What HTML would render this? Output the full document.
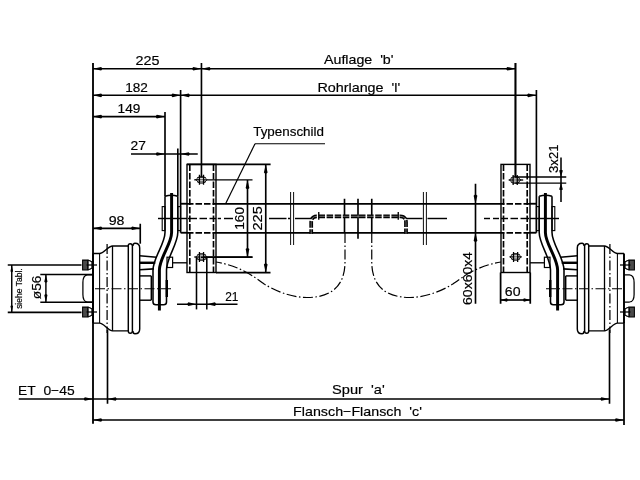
<!DOCTYPE html>
<html><head><meta charset="utf-8"><style>
html,body{margin:0;padding:0;background:#fff;}
svg{display:block;will-change:transform;}
text{font-family:"Liberation Sans",sans-serif;fill:#000;stroke:#000;stroke-width:0.18px;}
</style></head><body>
<svg width="640" height="480" viewBox="0 0 640 480" fill="none" stroke="#000">
<rect x="0" y="0" width="640" height="480" fill="#fff" stroke="none"/>
<g id="L"><line x1="93" y1="253.5" x2="93" y2="323.1" stroke-width="1.95" />
<path d="M93,253.5 H99.5 C104,253.5 108,246 112.5,246 H128.3" stroke-width="1.35" />
<path d="M93,323.1 H99.5 C104,323.1 108,330.8 112.5,330.8 H128.3" stroke-width="1.35" />
<line x1="99.6" y1="253.5" x2="99.6" y2="323.1" stroke-width="1.05" />
<line x1="112.5" y1="246" x2="112.5" y2="330.8" stroke-width="1.30" />
<path d="M128.3,331 V245.5 Q128.3,243.7 130.2,243.7 Q132.4,243.7 132.4,246 V331 Q132.4,333.3 130.2,333.3 Q128.3,333.3 128.3,331" stroke-width="1.45" />
<path d="M132.9,246 Q133,243.2 135,243.2 Q139.7,243.2 139.7,248 V329 Q139.7,333.8 135,333.8 Q133,333.8 132.9,331" stroke-width="1.45" />
<line x1="107.1" y1="244" x2="107.1" y2="333" stroke-width="1.25" stroke-dasharray="10 2.5 1.5 2.5"/>
<line x1="95" y1="288.75" x2="173" y2="288.75" stroke-width="1.20" stroke-dasharray="10 2.5 1.5 2.5"/>
<path d="M93,274.8 H87.5 Q82.9,275.2 82.9,282.5 V294.5 Q82.9,301.8 87.5,302 H93" stroke-width="1.25" />
<path d="M82.6,260.1 H87.9 L92.7,262.2 V267.8 L87.9,269.9 H82.6 Z" stroke-width="1.05" fill="#4a4a4a"/>
<path d="M87.9,260.1 L92.7,262.2 V267.8 L87.9,269.9 Z" stroke-width="0.95" fill="#fff"/>
<line x1="87.9" y1="260.1" x2="87.9" y2="269.9" stroke-width="1.15" />
<line x1="92.2" y1="262.0" x2="92.2" y2="268.0" stroke-width="1.65" />
<line x1="86.5" y1="265" x2="97" y2="265" stroke-width="1.25" />
<path d="M82.6,307.1 H87.9 L92.7,309.2 V314.8 L87.9,316.9 H82.6 Z" stroke-width="1.05" fill="#4a4a4a"/>
<path d="M87.9,307.1 L92.7,309.2 V314.8 L87.9,316.9 Z" stroke-width="0.95" fill="#fff"/>
<line x1="87.9" y1="307.1" x2="87.9" y2="316.9" stroke-width="1.15" />
<line x1="92.2" y1="309.0" x2="92.2" y2="315.0" stroke-width="1.65" />
<line x1="86.5" y1="312" x2="97" y2="312" stroke-width="1.25" />
<path d="M139.5,255.8 L156.7,257.2" stroke-width="1.65" />
<line x1="139.5" y1="262.8" x2="155.3" y2="262.8" stroke-width="2.45" />
<path d="M139.5,269.8 L153.9,268.9" stroke-width="1.65" />
<line x1="139.5" y1="275.9" x2="151.3" y2="275.9" stroke-width="1.45" />
<line x1="139.5" y1="300.2" x2="151.3" y2="300.2" stroke-width="1.45" />
<line x1="151.3" y1="275.9" x2="151.3" y2="300.2" stroke-width="1.45" />
<path d="M165,196.25 V232.5 C165,244 153,258 153,270 V302 Q153,304.8 156,304.8 H163.6 Q166.5,304.8 166.5,302 V270 C166.5,258 177.8,244 177.8,232.5 V196.25" stroke-width="1.55" />
<path d="M171.6,193 V232.5 C171.6,244 159.4,258 159.4,270 V310.5" stroke-width="2.95" />
<path d="M165,196.25 Q171.4,194.2 177.8,196.25" stroke-width="1.65" />
<rect x="162.2" y="206.6" width="2.8" height="24" stroke-width="1.1"/>
<rect x="177.8" y="206.6" width="2.8" height="24" stroke-width="1.1"/>
<rect x="167" y="257.2" width="5.6" height="10.3" stroke-width="1.2"/>
<line x1="172.6" y1="262.8" x2="187" y2="262.8" stroke-width="1.35" />
<line x1="166.8" y1="280" x2="166.8" y2="297" stroke-width="2.45" />
<rect x="187" y="164.4" width="29" height="108.1" stroke-width="1.4"/>
<line x1="189.8" y1="164.4" x2="189.8" y2="272.5" stroke-width="1.65" stroke-dasharray="6.5 2"/>
<line x1="213.5" y1="164.4" x2="213.5" y2="272.5" stroke-width="1.65" stroke-dasharray="6.5 2"/>
<line x1="180.6" y1="203.75" x2="187" y2="203.75" stroke-width="1.85" />
<line x1="180.6" y1="232.75" x2="187" y2="232.75" stroke-width="1.85" />
<line x1="187" y1="203.75" x2="216" y2="203.75" stroke-width="1.75" stroke-dasharray="6.5 2"/>
<line x1="187" y1="232.75" x2="216" y2="232.75" stroke-width="1.75" stroke-dasharray="6.5 2"/>
<line x1="180.6" y1="90" x2="180.6" y2="232.75" stroke-width="1.65" />
<line x1="201.45" y1="63" x2="201.45" y2="177.3" stroke-width="1.65" /></g>
<use href="#L" transform="matrix(-1 0 0 1 717 0)"/>
<line x1="216" y1="203.75" x2="501" y2="203.75" stroke-width="1.75" />
<line x1="216" y1="232.75" x2="501" y2="232.75" stroke-width="1.75" />
<line x1="158" y1="218.5" x2="187" y2="218.5" stroke-width="1.45" />
<line x1="188" y1="218.5" x2="197" y2="218.5" stroke-width="1.45" />
<line x1="199.5" y1="218.5" x2="207" y2="218.5" stroke-width="1.45" />
<line x1="209.5" y1="218.5" x2="216" y2="218.5" stroke-width="1.45" />
<line x1="217.75" y1="218.5" x2="221" y2="218.5" stroke-width="1.45" />
<line x1="224" y1="218.5" x2="233" y2="218.5" stroke-width="1.45" />
<line x1="269" y1="218.5" x2="286.5" y2="218.5" stroke-width="1.45" />
<line x1="288" y1="218.5" x2="290" y2="218.5" stroke-width="1.45" />
<line x1="295" y1="218.5" x2="311" y2="218.5" stroke-width="1.45" />
<line x1="405.7" y1="218.5" x2="422.5" y2="218.5" stroke-width="1.45" />
<line x1="427.5" y1="218.5" x2="447" y2="218.5" stroke-width="1.45" />
<line x1="484" y1="218.5" x2="490" y2="218.5" stroke-width="1.45" />
<line x1="493" y1="218.5" x2="499" y2="218.5" stroke-width="1.45" />
<line x1="501" y1="218.5" x2="508" y2="218.5" stroke-width="1.45" />
<line x1="510.5" y1="218.5" x2="518" y2="218.5" stroke-width="1.45" />
<line x1="520.5" y1="218.5" x2="529" y2="218.5" stroke-width="1.45" />
<line x1="530" y1="218.5" x2="559" y2="218.5" stroke-width="1.45" />
<line x1="290.6" y1="192" x2="290.6" y2="245" stroke-width="0.95" />
<line x1="293.6" y1="192" x2="293.6" y2="245" stroke-width="0.95" />
<line x1="423.4" y1="192" x2="423.4" y2="245" stroke-width="0.95" />
<line x1="426.4" y1="192" x2="426.4" y2="245" stroke-width="0.95" />
<line x1="358" y1="198.75" x2="358" y2="238.75" stroke-width="1.65" />
<line x1="344.5" y1="198.75" x2="344.5" y2="232.75" stroke-width="1.65" />
<line x1="371.75" y1="198.75" x2="371.75" y2="232.75" stroke-width="1.65" />
<path d="M311.2,233.8 V222.3 Q311.2,216.3 317.2,216.3 H400 Q406,216.3 406,222.3 V233.8" stroke-width="3.75" stroke-dasharray="6.5 1.6" stroke-dashoffset="2"/>
<path d="M311.2,233.8 V222.3 Q311.2,216.3 317.2,216.3 H400 Q406,216.3 406,222.3 V233.8" stroke-width="0.75" stroke="#fff" stroke-opacity="0.55"/>
<line x1="318.75" y1="212" x2="318.75" y2="219.8" stroke-width="1.35" />
<line x1="398.25" y1="212" x2="398.25" y2="219.8" stroke-width="1.35" />
<path d="M345,233 V262 C345,287 330,297.5 307,297.5 C292,297.5 275,291 263.75,283.75 C253,276 240,266 216,262" stroke-width="1.20" stroke-dasharray="10 2.5 1.5 2.5"/>
<path d="M371.75,233 V262 C371.75,287 387,297.5 410,297.5 C425,297.5 442,291 453.25,283.75 C464,276 477,266 501,262" stroke-width="1.20" stroke-dasharray="10 2.5 1.5 2.5"/>
<line x1="93" y1="63" x2="93" y2="423.75" stroke-width="1.85" />
<line x1="165" y1="112" x2="165" y2="196.25" stroke-width="1.65" />
<line x1="177.8" y1="148.5" x2="177.8" y2="196.25" stroke-width="1.65" />
<line x1="187" y1="164.4" x2="270.6" y2="164.4" stroke-width="1.85" />
<path d="M195.9,179.8 L199.1,176.4 H203.9 L207.1,179.8 L203.9,183.20000000000002 H199.1 Z" stroke-width="0.8"/>
<path d="M199.45,174.8 V184.8 M203.55,174.8 V184.8" stroke-width="1.25"/>
<path d="M197.2,177.65 H205.8 M197.2,181.95000000000002 H205.8" stroke-width="0.9"/>
<line x1="194.3" y1="179.8" x2="199.45" y2="179.8" stroke-width="1.35" />
<line x1="203.55" y1="179.8" x2="252.5" y2="179.8" stroke-width="1.35" />
<path d="M199.5,179.8 H203.5" stroke-width="0.8"/>
<path d="M195.9,257 L199.1,253.6 H203.9 L207.1,257 L203.9,260.4 H199.1 Z" stroke-width="0.8"/>
<path d="M199.45,252 V262 M203.55,252 V262" stroke-width="1.25"/>
<path d="M197.2,254.85 H205.8 M197.2,259.15 H205.8" stroke-width="0.9"/>
<line x1="194.3" y1="257" x2="199.45" y2="257" stroke-width="1.35" />
<line x1="203.55" y1="257" x2="252.5" y2="257" stroke-width="1.35" />
<path d="M199.5,257 H203.5" stroke-width="0.8"/>
<path d="M510.0,256.9 L513.2,253.49999999999997 H518.0 L521.2,256.9 L518.0,260.29999999999995 H513.2 Z" stroke-width="0.8"/>
<path d="M513.5500000000001,251.89999999999998 V261.9 M517.65,251.89999999999998 V261.9" stroke-width="1.25"/>
<path d="M511.3,254.74999999999997 H519.9 M511.3,259.04999999999995 H519.9" stroke-width="0.9"/>
<line x1="509.6" y1="256.9" x2="513.5500000000001" y2="256.9" stroke-width="1.35" />
<line x1="517.65" y1="256.9" x2="521.6" y2="256.9" stroke-width="1.35" />
<path d="M513.6,256.9 H517.6" stroke-width="0.8"/>
<path d="M509.6,180 L512.8000000000001,176.6 H517.6 L520.8000000000001,180 L517.6,183.4 H512.8000000000001 Z" stroke-width="0.8"/>
<path d="M513.1500000000001,175 V185 M517.25,175 V185" stroke-width="1.25"/>
<path d="M510.90000000000003,177.85 H519.5 M510.90000000000003,182.15 H519.5" stroke-width="0.9"/>
<line x1="508.70000000000005" y1="180" x2="513.1500000000001" y2="180" stroke-width="1.35" />
<line x1="517.25" y1="180" x2="523.2" y2="180" stroke-width="1.35" />
<path d="M513.2,180 H517.2" stroke-width="0.8"/>
<line x1="93" y1="68.75" x2="201.4" y2="68.75" stroke-width="1.60" />
<polygon points="93.00,68.75 101.10,66.90 102.00,67.92 102.00,69.58 101.10,70.60" fill="#000" stroke="none"/>
<polygon points="201.40,68.75 193.30,66.90 192.40,67.92 192.40,69.58 193.30,70.60" fill="#000" stroke="none"/>
<text x="147.5" y="65.3" font-size="13.5" text-anchor="middle" textLength="24" lengthAdjust="spacingAndGlyphs" >225</text>
<line x1="201.4" y1="68.75" x2="515.4" y2="68.75" stroke-width="1.60" />
<polygon points="201.40,68.75 209.50,66.90 210.40,67.92 210.40,69.58 209.50,70.60" fill="#000" stroke="none"/>
<polygon points="515.40,68.75 507.30,66.90 506.40,67.92 506.40,69.58 507.30,70.60" fill="#000" stroke="none"/>
<text x="358.75" y="64.4" font-size="13.5" text-anchor="middle" textLength="69.5" lengthAdjust="spacingAndGlyphs" >Auflage&#160;&#160;'b'</text>
<line x1="515.4" y1="63" x2="515.4" y2="177.3" stroke-width="1.65" />
<line x1="93" y1="95.3" x2="180.6" y2="95.3" stroke-width="1.60" />
<polygon points="93.00,95.30 101.10,93.45 102.00,94.47 102.00,96.13 101.10,97.15" fill="#000" stroke="none"/>
<polygon points="180.60,95.30 172.50,93.45 171.60,94.47 171.60,96.13 172.50,97.15" fill="#000" stroke="none"/>
<text x="136.55" y="91.75" font-size="13.5" text-anchor="middle" textLength="22.7" lengthAdjust="spacingAndGlyphs" >182</text>
<line x1="180.6" y1="95.3" x2="536.3" y2="95.3" stroke-width="1.60" />
<polygon points="180.60,95.30 188.70,93.45 189.60,94.47 189.60,96.13 188.70,97.15" fill="#000" stroke="none"/>
<polygon points="536.30,95.30 528.20,93.45 527.30,94.47 527.30,96.13 528.20,97.15" fill="#000" stroke="none"/>
<text x="358.8" y="91.6" font-size="13.5" text-anchor="middle" textLength="82.8" lengthAdjust="spacingAndGlyphs" >Rohrlange&#160;&#160;'l'</text>
<line x1="93" y1="116.6" x2="165" y2="116.6" stroke-width="1.60" />
<polygon points="93.00,116.60 101.10,114.75 102.00,115.77 102.00,117.43 101.10,118.45" fill="#000" stroke="none"/>
<polygon points="165.00,116.60 156.90,114.75 156.00,115.77 156.00,117.43 156.90,118.45" fill="#000" stroke="none"/>
<text x="129" y="112.9" font-size="13.5" text-anchor="middle" textLength="22.8" lengthAdjust="spacingAndGlyphs" >149</text>
<line x1="131" y1="154" x2="197.75" y2="154" stroke-width="1.60" />
<polygon points="165.00,154.00 156.90,152.15 156.00,153.17 156.00,154.83 156.90,155.85" fill="#000" stroke="none"/>
<polygon points="180.60,154.00 188.70,152.15 189.60,153.17 189.60,154.83 188.70,155.85" fill="#000" stroke="none"/>
<text x="138.3" y="150.4" font-size="13.5" text-anchor="middle" textLength="15.4" lengthAdjust="spacingAndGlyphs" >27</text>
<text x="288.6" y="136.4" font-size="13.5" text-anchor="middle" textLength="70.8" lengthAdjust="spacingAndGlyphs" >Typenschild</text>
<line x1="255" y1="143.75" x2="325" y2="143.75" stroke-width="1.20" />
<line x1="255" y1="143.75" x2="225.6" y2="203.75" stroke-width="1.20" />
<line x1="247.5" y1="180" x2="247.5" y2="257.2" stroke-width="1.65" />
<polygon points="247.50,180.00 245.65,188.10 246.67,189.00 248.33,189.00 249.35,188.10" fill="#000" stroke="none"/>
<polygon points="247.50,257.20 245.65,249.10 246.67,248.20 248.33,248.20 249.35,249.10" fill="#000" stroke="none"/>
<line x1="201" y1="257.2" x2="252.5" y2="257.2" stroke-width="1.65" />
<text x="243.6" y="218.35" font-size="13.5" text-anchor="middle" textLength="22.7" lengthAdjust="spacingAndGlyphs" transform="rotate(-90 243.6 218.35)" >160</text>
<line x1="265.75" y1="164.4" x2="265.75" y2="272.5" stroke-width="1.65" />
<polygon points="265.75,164.40 263.90,172.50 264.92,173.40 266.58,173.40 267.60,172.50" fill="#000" stroke="none"/>
<polygon points="265.75,272.50 263.90,264.40 264.92,263.50 266.58,263.50 267.60,264.40" fill="#000" stroke="none"/>
<line x1="216" y1="272.5" x2="270.5" y2="272.5" stroke-width="1.75" />
<text x="261.9" y="218.35" font-size="13.5" text-anchor="middle" textLength="24.3" lengthAdjust="spacingAndGlyphs" transform="rotate(-90 261.9 218.35)" >225</text>
<line x1="196.5" y1="257.2" x2="196.5" y2="309.4" stroke-width="1.55" />
<line x1="206.8" y1="257.2" x2="206.8" y2="309.4" stroke-width="1.55" />
<line x1="177" y1="304.2" x2="237.5" y2="304.2" stroke-width="1.55" />
<polygon points="196.50,304.20 188.40,302.35 187.50,303.37 187.50,305.03 188.40,306.05" fill="#000" stroke="none"/>
<polygon points="206.80,304.20 214.90,302.35 215.80,303.37 215.80,305.03 214.90,306.05" fill="#000" stroke="none"/>
<text x="231.85" y="300.6" font-size="13.5" text-anchor="middle" textLength="13.3" lengthAdjust="spacingAndGlyphs" >21</text>
<line x1="93" y1="228.25" x2="140.25" y2="228.25" stroke-width="1.75" />
<polygon points="93.00,228.25 101.10,226.40 102.00,227.42 102.00,229.08 101.10,230.10" fill="#000" stroke="none"/>
<polygon points="140.25,228.25 132.15,226.40 131.25,227.42 131.25,229.08 132.15,230.10" fill="#000" stroke="none"/>
<line x1="140.25" y1="223.75" x2="140.25" y2="243.7" stroke-width="1.65" />
<text x="116.6" y="224.6" font-size="13.5" text-anchor="middle" textLength="15.8" lengthAdjust="spacingAndGlyphs" >98</text>
<line x1="7.75" y1="265" x2="81.5" y2="265" stroke-width="1.65" />
<line x1="7.75" y1="312.4" x2="81.5" y2="312.4" stroke-width="1.65" />
<line x1="11.75" y1="265" x2="11.75" y2="312.4" stroke-width="1.45" />
<polygon points="11.75,265.00 10.45,271.30 11.16,272.00 12.34,272.00 13.05,271.30" fill="#000" stroke="none"/>
<polygon points="11.75,312.40 10.45,306.10 11.16,305.40 12.34,305.40 13.05,306.10" fill="#000" stroke="none"/>
<text x="21.7" y="288.6" font-size="8.6" text-anchor="middle" textLength="40.5" lengthAdjust="spacingAndGlyphs" transform="rotate(-90 21.7 288.6)" stroke="#000" stroke-width="0.3">siehe&#160;Tabl.</text>
<line x1="40.3" y1="274.5" x2="93" y2="274.5" stroke-width="1.65" />
<line x1="40.3" y1="302.2" x2="93" y2="302.2" stroke-width="1.65" />
<line x1="45.9" y1="274.5" x2="45.9" y2="302.2" stroke-width="1.45" />
<polygon points="45.90,274.50 44.30,281.70 45.18,282.50 46.62,282.50 47.50,281.70" fill="#000" stroke="none"/>
<polygon points="45.90,302.20 44.30,295.00 45.18,294.20 46.62,294.20 47.50,295.00" fill="#000" stroke="none"/>
<text x="40.6" y="287.35" font-size="13.5" text-anchor="middle" textLength="23.7" lengthAdjust="spacingAndGlyphs" transform="rotate(-90 40.6 287.35)" >ø56</text>
<line x1="107.5" y1="330" x2="107.5" y2="403.75" stroke-width="1.65" />
<line x1="609.5" y1="330" x2="609.5" y2="403.75" stroke-width="1.65" />
<line x1="624" y1="322" x2="624" y2="425" stroke-width="1.75" />
<line x1="18.75" y1="399" x2="609.5" y2="399" stroke-width="1.60" />
<polygon points="93.00,399.00 84.90,397.15 84.00,398.17 84.00,399.83 84.90,400.85" fill="#000" stroke="none"/>
<text x="46.3" y="394.8" font-size="13.5" text-anchor="middle" textLength="56.6" lengthAdjust="spacingAndGlyphs" >ET&#160;&#160;0−45</text>
<polygon points="107.50,399.00 115.60,397.15 116.50,398.17 116.50,399.83 115.60,400.85" fill="#000" stroke="none"/>
<polygon points="609.50,399.00 601.40,397.15 600.50,398.17 600.50,399.83 601.40,400.85" fill="#000" stroke="none"/>
<text x="358.45" y="394.4" font-size="13.5" text-anchor="middle" textLength="52.7" lengthAdjust="spacingAndGlyphs" >Spur&#160;&#160;'a'</text>
<line x1="93" y1="420" x2="624" y2="420" stroke-width="1.60" />
<polygon points="93.00,420.00 101.10,418.15 102.00,419.17 102.00,420.83 101.10,421.85" fill="#000" stroke="none"/>
<polygon points="624.00,420.00 615.90,418.15 615.00,419.17 615.00,420.83 615.90,421.85" fill="#000" stroke="none"/>
<text x="357.5" y="416.2" font-size="13.5" text-anchor="middle" textLength="128.8" lengthAdjust="spacingAndGlyphs" >Flansch−Flansch&#160;&#160;'c'</text>
<line x1="515.4" y1="176.9" x2="566.25" y2="176.9" stroke-width="1.45" />
<line x1="515.4" y1="183.1" x2="566.25" y2="183.1" stroke-width="1.45" />
<line x1="561" y1="157.5" x2="561" y2="201.9" stroke-width="1.55" />
<polygon points="561.00,176.90 559.15,170.60 560.17,169.90 561.83,169.90 562.85,170.60" fill="#000" stroke="none"/>
<polygon points="561.00,183.10 559.15,189.40 560.17,190.10 561.83,190.10 562.85,189.40" fill="#000" stroke="none"/>
<text x="557.9" y="158.75" font-size="13.5" text-anchor="middle" textLength="28.3" lengthAdjust="spacingAndGlyphs" transform="rotate(-90 557.9 158.75)" >3x21</text>
<line x1="475.5" y1="183.75" x2="475.5" y2="303.75" stroke-width="1.65" />
<polygon points="475.50,203.75 473.65,195.65 474.67,194.75 476.33,194.75 477.35,195.65" fill="#000" stroke="none"/>
<polygon points="475.50,232.75 473.65,240.85 474.67,241.75 476.33,241.75 477.35,240.85" fill="#000" stroke="none"/>
<text x="471.9" y="278.45" font-size="13.5" text-anchor="middle" textLength="52.9" lengthAdjust="spacingAndGlyphs" transform="rotate(-90 471.9 278.45)" >60x60x4</text>
<line x1="500.6" y1="272.5" x2="500.6" y2="303.75" stroke-width="1.75" />
<line x1="530.25" y1="272.5" x2="530.25" y2="303.75" stroke-width="1.75" />
<line x1="500.6" y1="300" x2="530.25" y2="300" stroke-width="1.65" />
<polygon points="500.60,300.00 506.90,298.15 507.60,299.17 507.60,300.83 506.90,301.85" fill="#000" stroke="none"/>
<polygon points="530.25,300.00 523.95,298.15 523.25,299.17 523.25,300.83 523.95,301.85" fill="#000" stroke="none"/>
<text x="512.65" y="295.5" font-size="13.5" text-anchor="middle" textLength="15.7" lengthAdjust="spacingAndGlyphs" >60</text>
</svg></body></html>
